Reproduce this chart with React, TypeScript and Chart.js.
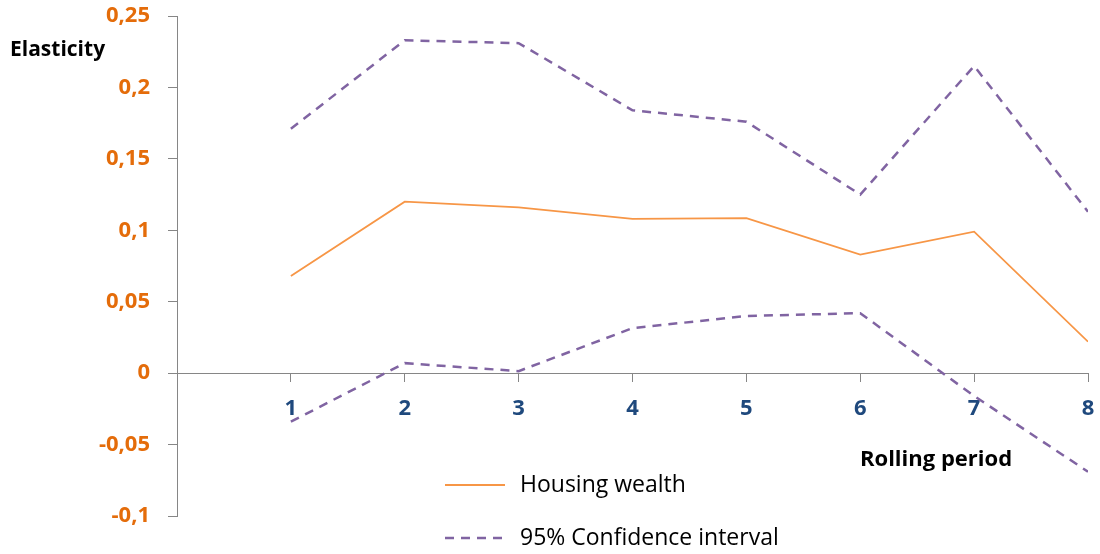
import React, { useEffect, useRef } from "react";
import { Chart, registerables } from "chart.js";

Chart.register(...registerables);

const periods = [1, 2, 3, 4, 5, 6, 7, 8];
const housingWealth = [0.068, 0.12, 0.116, 0.108, 0.1085, 0.083, 0.099, 0.022];
const upperCI = [0.171, 0.233, 0.231, 0.184, 0.176, 0.125, 0.215, 0.113];
const lowerCI = [-0.034, 0.007, 0.0014, 0.0315, 0.04, 0.042, -0.016, -0.069];
const legendLabels = ["Housing wealth", "95% Confidence interval"];
const yAxisTitle = "Elasticity";
const xAxisTitle = "Rolling period";

const ORANGE = "#F79646";
const PURPLE = "#8064A2";
const AXIS = "#868686";
const FONT = "'Open Sans', 'DejaVu Sans', sans-serif";

const toPoints = (vals: number[]) => vals.map((v, i) => ({ x: periods[i], y: v }));

const textPlugin = {
  id: "extraText",
  afterDraw(chart: any) {
    const ctx = chart.ctx;
    ctx.save();
    ctx.fillStyle = "#000";
    ctx.textBaseline = "middle";
    ctx.textAlign = "left";
    ctx.font = `bold 21px ${FONT}`;
    ctx.fillText(yAxisTitle, 10, 50);
    ctx.font = `bold 22px ${FONT}`;
    ctx.fillText(xAxisTitle, 860, 460);
    // legend
    ctx.font = `23px ${FONT}`;
    const items = [
      { color: ORANGE, width: 1.8, dash: [] as number[], y: 485 },
      { color: PURPLE, width: 2.5, dash: [9, 7], y: 538 },
    ];
    items.forEach((it, i) => {
      ctx.beginPath();
      ctx.strokeStyle = it.color;
      ctx.lineWidth = it.width;
      ctx.setLineDash(it.dash);
      ctx.moveTo(445, it.y);
      ctx.lineTo(505, it.y);
      ctx.stroke();
      ctx.setLineDash([]);
      ctx.fillStyle = "#000";
      ctx.fillText(legendLabels[i], 520, it.y);
    });
    ctx.restore();
  },
};

export default function App() {
  const ref = useRef<HTMLCanvasElement>(null);
  useEffect(() => {
    if (!ref.current) return;
    const chart = new Chart(ref.current, {
      type: "line",
      data: {
        datasets: [
          {
            label: legendLabels[0],
            data: toPoints(housingWealth),
            borderColor: ORANGE,
            borderWidth: 1.8,
            pointRadius: 0,
            tension: 0,
          },
          {
            label: legendLabels[1],
            data: toPoints(upperCI),
            borderColor: PURPLE,
            borderWidth: 2.5,
            borderDash: [9, 7],
            pointRadius: 0,
            tension: 0,
          },
          {
            label: legendLabels[1] + " (lower)",
            data: toPoints(lowerCI),
            borderColor: PURPLE,
            borderWidth: 2.5,
            borderDash: [9, 7],
            pointRadius: 0,
            tension: 0,
          },
        ],
      },
      options: {
        animation: false,
        responsive: true,
        maintainAspectRatio: false,
        layout: { padding: { top: 16, bottom: 38, right: 12, left: 0 } },
        plugins: { legend: { display: false }, tooltip: { enabled: false } },
        scales: {
          x: {
            type: "linear",
            min: 0,
            max: 8,
            position: { y: 0 } as any,
            afterFit: (s: any) => {
              s.paddingLeft = 0;
              s.paddingRight = 0;
              s.paddingTop = 0;
              s.paddingBottom = 0;
            },
            border: { display: true, color: AXIS, width: 1 },
            grid: {
              drawOnChartArea: false,
              drawTicks: true,
              tickLength: 8,
              color: (c: any) => (c.tick && c.tick.value === 0 ? "rgba(0,0,0,0)" : AXIS),
            },
            ticks: {
              stepSize: 1,
              padding: 14,
              color: "#1F497D",
              font: { family: FONT, size: 22, weight: "bold" },
              callback: (v: any) => (v === 0 ? "" : String(v)),
              maxRotation: 0,
            },
          },
          y: {
            type: "linear",
            min: -0.1,
            max: 0.25,
            position: "left",
            afterFit: (s: any) => {
              s.width = 177;
              s.paddingTop = 0;
              s.paddingBottom = 0;
              s.paddingLeft = 0;
              s.paddingRight = 0;
            },
            border: { display: true, color: AXIS, width: 1 },
            grid: { drawOnChartArea: false, drawTicks: true, tickLength: 9, color: AXIS },
            ticks: {
              stepSize: 0.05,
              padding: 18,
              color: "#E46C0A",
              font: { family: FONT, size: 22, weight: "bold" },
              callback: (v: any) => String(Math.round(Number(v) * 100) / 100).replace(".", ","),
            },
          },
        },
      },
      plugins: [textPlugin],
    });
    return () => chart.destroy();
  }, []);
  return (
    <div style={{ position: "absolute", left: 0, top: 0, width: 1100, height: 554 }}>
      <canvas ref={ref} />
    </div>
  );
}
